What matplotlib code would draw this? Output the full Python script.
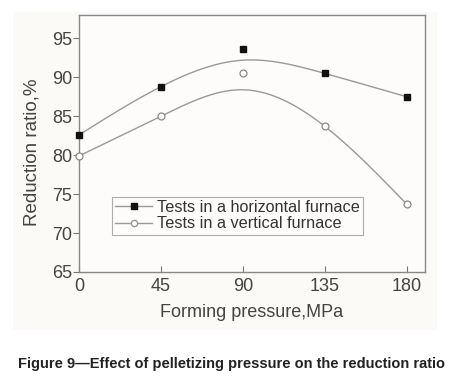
import matplotlib
matplotlib.use("Agg")
import matplotlib.pyplot as plt
import numpy as np
from matplotlib.patches import Rectangle

# pressure (MPa) and reduction ratio (%)
pressure = [0, 45, 90, 135, 180]
horizontal = [82.6, 88.8, 93.6, 90.5, 87.5]
vertical = [79.9, 85.0, 90.6, 83.7, 73.7]
# smoothed trend lines (they miss the 90 MPa points)
trend_horizontal = [82.6, 88.8, 92.2, 90.5, 87.5]
trend_vertical = [79.9, 85.0, 88.4, 83.7, 73.7]


def natural_spline(x, y, xs):
    # natural cubic spline through (x, y), evaluated at xs
    x = np.asarray(x, float)
    y = np.asarray(y, float)
    n = len(x)
    h = np.diff(x)
    A = np.zeros((n, n))
    b = np.zeros(n)
    A[0, 0] = A[-1, -1] = 1
    for i in range(1, n - 1):
        A[i, i - 1] = h[i - 1]
        A[i, i] = 2 * (h[i - 1] + h[i])
        A[i, i + 1] = h[i]
        b[i] = 6 * ((y[i + 1] - y[i]) / h[i] - (y[i] - y[i - 1]) / h[i - 1])
    M = np.linalg.solve(A, b)
    idx = np.clip(np.searchsorted(x, xs) - 1, 0, n - 2)
    x0, x1 = x[idx], x[idx + 1]
    hh = x1 - x0
    t0, t1 = x1 - xs, xs - x0
    return (M[idx] * t0**3 + M[idx + 1] * t1**3) / (6 * hh) \
        + (y[idx] / hh - M[idx] * hh / 6) * t0 + (y[idx + 1] / hh - M[idx + 1] * hh / 6) * t1


plt.rcParams['font.family'] = ['Liberation Sans', 'DejaVu Sans']

fig = plt.figure(figsize=(4.5, 3.86), dpi=100)
fig.patch.set_facecolor('white')
# light panel behind the chart
fig.patches.append(Rectangle((13/450, 1 - 330/386), 424/450, 318/386,
                             transform=fig.transFigure, facecolor='#fbfaf7',
                             edgecolor='none', zorder=-5))

ax = fig.add_axes([79/450, 1 - 272/386, 346/450, 257/386])
ax.set_zorder(2)
ax.set_facecolor('#fdfcfa')

line_col = '#999999'
xs = np.linspace(0, 180, 300)
ax.plot(xs, natural_spline(pressure, trend_horizontal, xs), color=line_col, lw=1.0, zorder=2)
ax.plot(xs, natural_spline(pressure, trend_vertical, xs), color=line_col, lw=1.0, zorder=2)
ax.plot(pressure, horizontal, 's', color='#111111', ms=4.5, zorder=3, clip_on=False)
ax.plot(pressure, vertical, 'o', mfc='white', mec='#888888', mew=0.9, ms=5, zorder=3, clip_on=False)

# legend proxies
ax.plot([], [], '-s', color=line_col, mfc='#111111', mec='#111111', ms=4, lw=1.0,
        label='Tests in a horizontal furnace')
ax.plot([], [], '-o', color=line_col, mfc='white', mec='#999999', ms=4.5, lw=1.0,
        label='Tests in a vertical furnace')
leg = ax.legend(loc='lower left', bbox_to_anchor=(0.095, 0.145), fontsize=11.7,
                frameon=True, fancybox=False, handlelength=2.3, handletextpad=0.25,
                borderpad=0.2, labelspacing=0.1, borderaxespad=0)
leg.get_frame().set_edgecolor('#999999')
leg.get_frame().set_linewidth(0.8)
leg.get_frame().set_facecolor('#fdfcfa')
for t in leg.get_texts():
    t.set_color('#333333')

ax.set_xlim(0, 190)
ax.set_ylim(65, 98)
ax.set_xticks([0, 45, 90, 135, 180])
ax.set_yticks([65, 70, 75, 80, 85, 90, 95])
ax.tick_params(axis='x', direction='in', length=4, colors='#777777',
               labelcolor='#444444', labelsize=13, pad=4)
ax.tick_params(axis='y', direction='out', length=4, colors='#777777',
               labelcolor='#444444', labelsize=13, pad=1)
for s in ax.spines.values():
    s.set_color('#888888')
    s.set_linewidth(1.0)

ax.set_xlabel('Forming pressure,MPa', fontsize=13, color='#444444', labelpad=7)
ax.set_ylabel('Reduction ratio,%', fontsize=13.5, color='#444444')
ax.yaxis.set_label_coords(-0.11, 0.465)

fig.text(232/450, 1 - 364/386, 'Figure 9\u2014Effect of pelletizing pressure on the reduction ratio',
         ha='center', va='center', fontsize=10.5, fontweight='bold', color='#222222')

fig.savefig('out.png', dpi=100)
